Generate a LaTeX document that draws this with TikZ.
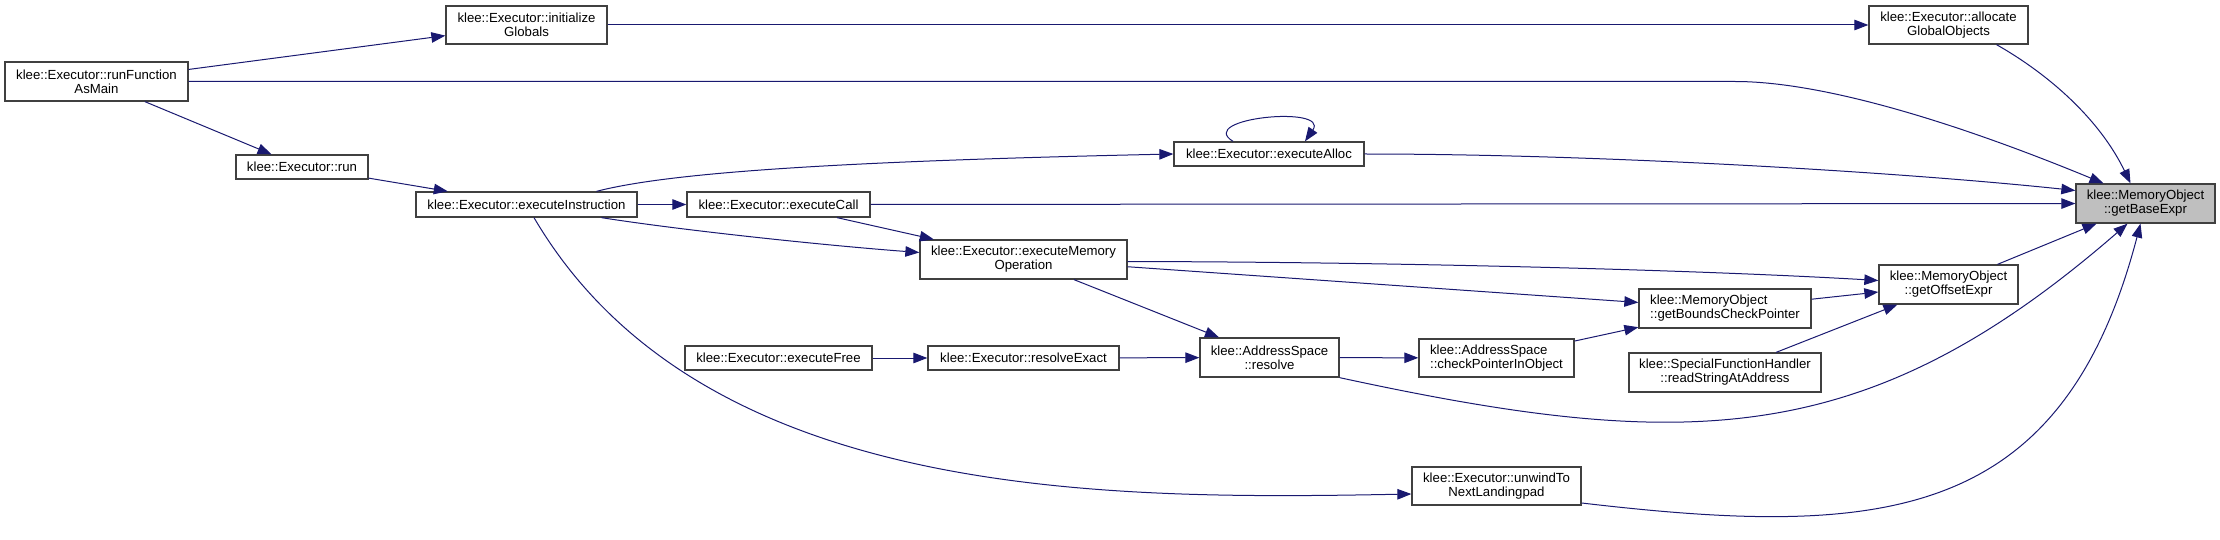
\documentclass[tikz,border=0pt]{standalone}
\usepackage{fontspec}
\setmainfont{Liberation Sans}
\usetikzlibrary{arrows.meta}
\definecolor{edgec}{HTML}{191970}
\definecolor{boxc}{HTML}{404040}
\definecolor{focusc}{HTML}{BFBFBF}
\begin{document}
\begin{tikzpicture}[x=1pt,y=-1pt,
  fbox/.style={draw=boxc, line width=1.3pt, fill=white, inner sep=0pt, align=center, font=\fontsize{13.2}{14}\selectfont},
  lbox/.style={fbox, align=left},
  edge/.style={draw=edgec, line width=1pt, -{Triangle[length=14pt,width=10.5pt]}}
]
\useasboundingbox (0,0) rectangle (2220,540);
\node[fbox, minimum width=183pt, minimum height=39pt] (rfm) at (96.5,81.5) {klee::Executor::runFunction\\AsMain};
\node[fbox, minimum width=161pt, minimum height=38pt] (ig) at (526.5,25) {klee::Executor::initialize\\Globals};
\node[fbox, minimum width=132pt, minimum height=24pt] (run) at (302,167) {klee::Executor::run};
\node[fbox, minimum width=221pt, minimum height=25pt] (ei) at (526.5,204.5) {klee::Executor::executeInstruction};
\node[fbox, minimum width=183pt, minimum height=25pt] (ec) at (778.5,204.5) {klee::Executor::executeCall};
\node[fbox, minimum width=190pt, minimum height=24pt] (ea) at (1269,154) {klee::Executor::executeAlloc};
\node[fbox, minimum width=207pt, minimum height=39pt] (emo) at (1023.5,259.5) {klee::Executor::executeMemory\\Operation};
\node[fbox, minimum width=187pt, minimum height=24pt] (ef) at (778.5,358) {klee::Executor::executeFree};
\node[fbox, minimum width=191pt, minimum height=24pt] (re) at (1023.5,358) {klee::Executor::resolveExact};
\node[fbox, minimum width=139pt, minimum height=39pt] (asr) at (1269.5,357.5) {klee::AddressSpace\\::resolve};
\node[lbox, minimum width=155pt, minimum height=38pt] (cpo) at (1496.5,358) {klee::AddressSpace\\::checkPointerInObject};
\node[lbox, minimum width=172pt, minimum height=39pt] (gbcp) at (1725,308.5) {klee::MemoryObject\\::getBoundsCheckPointer};
\node[fbox, minimum width=192pt, minimum height=39pt] (rsa) at (1725,372.5) {klee::SpecialFunctionHandler\\::readStringAtAddress};
\node[fbox, minimum width=139pt, minimum height=39pt] (goe) at (1948.5,284.5) {klee::MemoryObject\\::getOffsetExpr};
\node[fbox, fill=focusc, minimum width=139pt, minimum height=39pt] (gbe) at (2145.5,203.5) {klee::MemoryObject\\::getBaseExpr};
\node[fbox, minimum width=159pt, minimum height=38pt] (ago) at (1948.5,25) {klee::Executor::allocate\\GlobalObjects};
\node[fbox, minimum width=169pt, minimum height=38pt] (uw) at (1496.5,486) {klee::Executor::unwindTo\\NextLandingpad};

\draw[edge] (rfm) -- (ig);
\draw[edge] (rfm.east) -- (1735,81.5) .. controls (1820,81.5) and (1950,120) .. ([xshift=-42pt]gbe.north);
\draw[edge] (rfm) -- (run);
\draw[edge] (run) -- (ei);
\draw[edge] (ig) -- (ago);
\draw[edge] ([xshift=70pt]ei.north) .. controls (660,175) and (800,162) .. (ea.west);
\draw[edge] (ei) -- (ec);
\draw[edge] ([xshift=75pt]ei.south) .. controls (680,230) and (820,245) .. ([yshift=7pt]emo.west);
\draw[edge] ([xshift=7.5pt]ei.south) .. controls (700,500) and (1100,500) .. ([yshift=-8pt]uw.west);
\draw[edge] (ec) -- (gbe);
\draw[edge] (ec) -- (emo);
\draw[edge] ([xshift=-36pt]ea.north) .. controls (1195,118) and (1330,105) .. ([xshift=36pt]ea.north);
\draw[edge] (ea.east) .. controls (1600,154) and (1900,172) .. ([yshift=13pt]gbe.west);
\draw[edge] ([yshift=-2pt]emo.east) .. controls (1400,262) and (1700,270) .. ([yshift=4pt]goe.west);
\draw[edge] (emo) -- (gbcp);
\draw[edge] (emo) -- (asr);
\draw[edge] (ef) -- (re);
\draw[edge] (re) -- (asr);
\draw[edge] (asr) -- (cpo);
\draw[edge] (asr.south east) .. controls (1688,453) and (1867,450) .. ([xshift=-18pt]gbe.south);
\draw[edge] (cpo) -- (gbcp);
\draw[edge] (gbcp) -- (goe);
\draw[edge] (rsa) -- (goe);
\draw[edge] (goe) -- (gbe);
\draw[edge] ([xshift=48pt]ago.south) .. controls (2050,75) and (2100,120) .. ([xshift=-15pt]gbe.north);
\draw[edge] ([yshift=-17pt]uw.east) .. controls (1881,538) and (2062,524) .. ([xshift=-5pt]gbe.south);
\end{tikzpicture}
\end{document}
